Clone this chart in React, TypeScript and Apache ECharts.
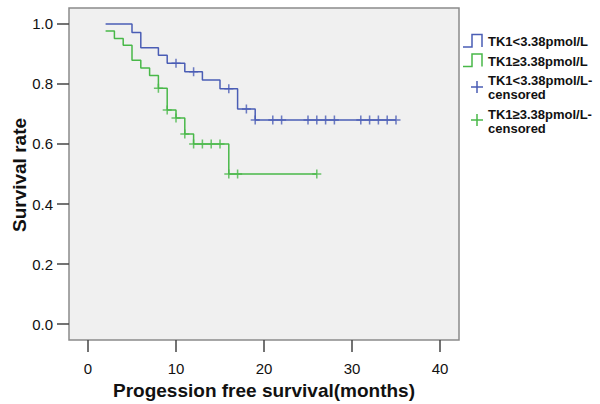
import React, { useEffect, useRef } from "react";
import * as echarts from "echarts";

// ---- data ----
const blueTimes = [2, 5, 6, 8, 9, 11, 13, 15, 17, 19, 35];
const blueSurv = [1.0, 0.972, 0.921, 0.896, 0.869, 0.841, 0.813, 0.784, 0.717, 0.68, 0.68];
const greenTimes = [2, 3, 4, 5, 6, 7, 8, 9, 10, 11, 12, 16, 26];
const greenSurv = [0.977, 0.952, 0.929, 0.879, 0.853, 0.828, 0.786, 0.713, 0.687, 0.633, 0.6, 0.5, 0.5];
const blueCensTimes = [10, 12, 16, 18, 19, 21, 22, 25, 26, 27, 28, 31, 32, 33, 34, 35];
const blueCensSurv = [0.869, 0.841, 0.784, 0.717, 0.68, 0.68, 0.68, 0.68, 0.68, 0.68, 0.68, 0.68, 0.68, 0.68, 0.68, 0.68];
const greenCensTimes = [8, 9, 10, 11, 12, 13, 14, 15, 16, 17, 26];
const greenCensSurv = [0.786, 0.713, 0.687, 0.633, 0.6, 0.6, 0.6, 0.6, 0.5, 0.5, 0.5];
const xTicks = [0, 10, 20, 30, 40];
const yTicks = [0, 0.2, 0.4, 0.6, 0.8, 1.0];
const legendNames = ["TK1<3.38pmol/L", "TK1≥3.38pmol/L", "TK1<3.38pmol/L-\ncensored", "TK1≥3.38pmol/L-\ncensored"];
const xTitle = "Progession free survival(months)";
const yTitle = "Survival rate";

const BLUE = "#4a5db5";
const GREEN = "#48b848";
const FONT = "'Liberation Sans', Arial, sans-serif";
const PLUS = "path://M-0.17,-1H0.17V-0.17H1V0.17H0.17V1H-0.17V0.17H-1V-0.17H-0.17Z";

const zip = (a: number[], b: number[]) => a.map((v, i) => [v, b[i]]);

export default function App() {
  const ref = useRef<HTMLDivElement>(null);
  useEffect(() => {
    if (!ref.current) return;
    const chart = echarts.init(ref.current, null, { renderer: "svg" });
    const legendText = (x: number, y: number, text: string) => ({
      type: "text",
      x,
      y,
      style: {
        text,
        font: `bold 13px ${FONT}`,
        fill: "#111",
        lineHeight: 14,
        verticalAlign: "top",
      },
    });
    chart.setOption({
      animation: false,
      backgroundColor: "#ffffff",
      grid: {
        left: 69,
        top: 8,
        right: 141,
        bottom: 64,
        show: true,
        backgroundColor: "#f0f0f0",
        borderColor: "#8a8a8a",
        borderWidth: 1.5,
      },
      xAxis: {
        type: "value",
        min: -2.159,
        max: 42.159,
        axisLine: { show: false, onZero: false },
        axisTick: {
          show: true,
          customValues: xTicks,
          length: 12,
          lineStyle: { color: "#444", width: 1.5 },
        },
        axisLabel: {
          customValues: xTicks,
          margin: 21,
          fontSize: 15,
          fontFamily: FONT,
          color: "#111",
        },
        splitLine: { show: false },
      },
      yAxis: {
        type: "value",
        min: -0.0533,
        max: 1.0533,
        axisLine: { show: false, onZero: false },
        axisTick: {
          show: true,
          customValues: yTicks,
          length: 12,
          lineStyle: { color: "#444", width: 1.5 },
        },
        axisLabel: {
          customValues: yTicks,
          margin: 16,
          fontSize: 15,
          fontFamily: FONT,
          color: "#111",
          formatter: (v: number) => v.toFixed(1),
        },
        splitLine: { show: false },
      },
      series: [
        {
          type: "line",
          step: "end",
          data: zip(blueTimes, blueSurv),
          showSymbol: false,
          lineStyle: { color: BLUE, width: 1.5 },
          z: 2,
        },
        {
          type: "line",
          step: "end",
          data: zip(greenTimes, greenSurv),
          showSymbol: false,
          lineStyle: { color: GREEN, width: 1.5 },
          z: 2,
        },
        {
          type: "scatter",
          data: zip(blueCensTimes, blueCensSurv),
          symbol: PLUS,
          symbolSize: 9,
          itemStyle: { color: BLUE },
          z: 3,
        },
        {
          type: "scatter",
          data: zip(greenCensTimes, greenCensSurv),
          symbol: PLUS,
          symbolSize: 9,
          itemStyle: { color: GREEN },
          z: 3,
        },
      ],
      graphic: [
        {
          type: "text",
          x: 264,
          y: 390,
          style: {
            text: xTitle,
            font: `bold 19px ${FONT}`,
            fill: "#111",
            align: "center",
            verticalAlign: "middle",
          },
        },
        {
          type: "text",
          x: 19.5,
          y: 175,
          rotation: Math.PI / 2,
          style: {
            text: yTitle,
            font: `bold 19px ${FONT}`,
            fill: "#111",
            align: "center",
            verticalAlign: "middle",
          },
        },
        {
          type: "polyline",
          shape: { points: [[463, 47], [472, 47], [472, 34.5], [482, 34.5], [482, 47]] },
          style: { stroke: BLUE, lineWidth: 1.5, fill: null },
        },
        {
          type: "polyline",
          shape: { points: [[463, 66.5], [472, 66.5], [472, 54], [482, 54], [482, 66.5]] },
          style: { stroke: GREEN, lineWidth: 1.5, fill: null },
        },
        { type: "line", shape: { x1: 471, y1: 87, x2: 483, y2: 87 }, style: { stroke: BLUE, lineWidth: 1.5 } },
        { type: "line", shape: { x1: 477, y1: 81, x2: 477, y2: 93 }, style: { stroke: BLUE, lineWidth: 1.5 } },
        { type: "line", shape: { x1: 471, y1: 120, x2: 483, y2: 120 }, style: { stroke: GREEN, lineWidth: 1.5 } },
        { type: "line", shape: { x1: 477, y1: 114, x2: 477, y2: 126 }, style: { stroke: GREEN, lineWidth: 1.5 } },
        legendText(488, 34, legendNames[0]),
        legendText(488, 54, legendNames[1]),
        legendText(488, 73, legendNames[2]),
        legendText(488, 107, legendNames[3]),
      ],
    });
    return () => chart.dispose();
  }, []);
  return <div ref={ref} style={{ width: 600, height: 404, position: "absolute", left: 0, top: 0 }} />;
}
